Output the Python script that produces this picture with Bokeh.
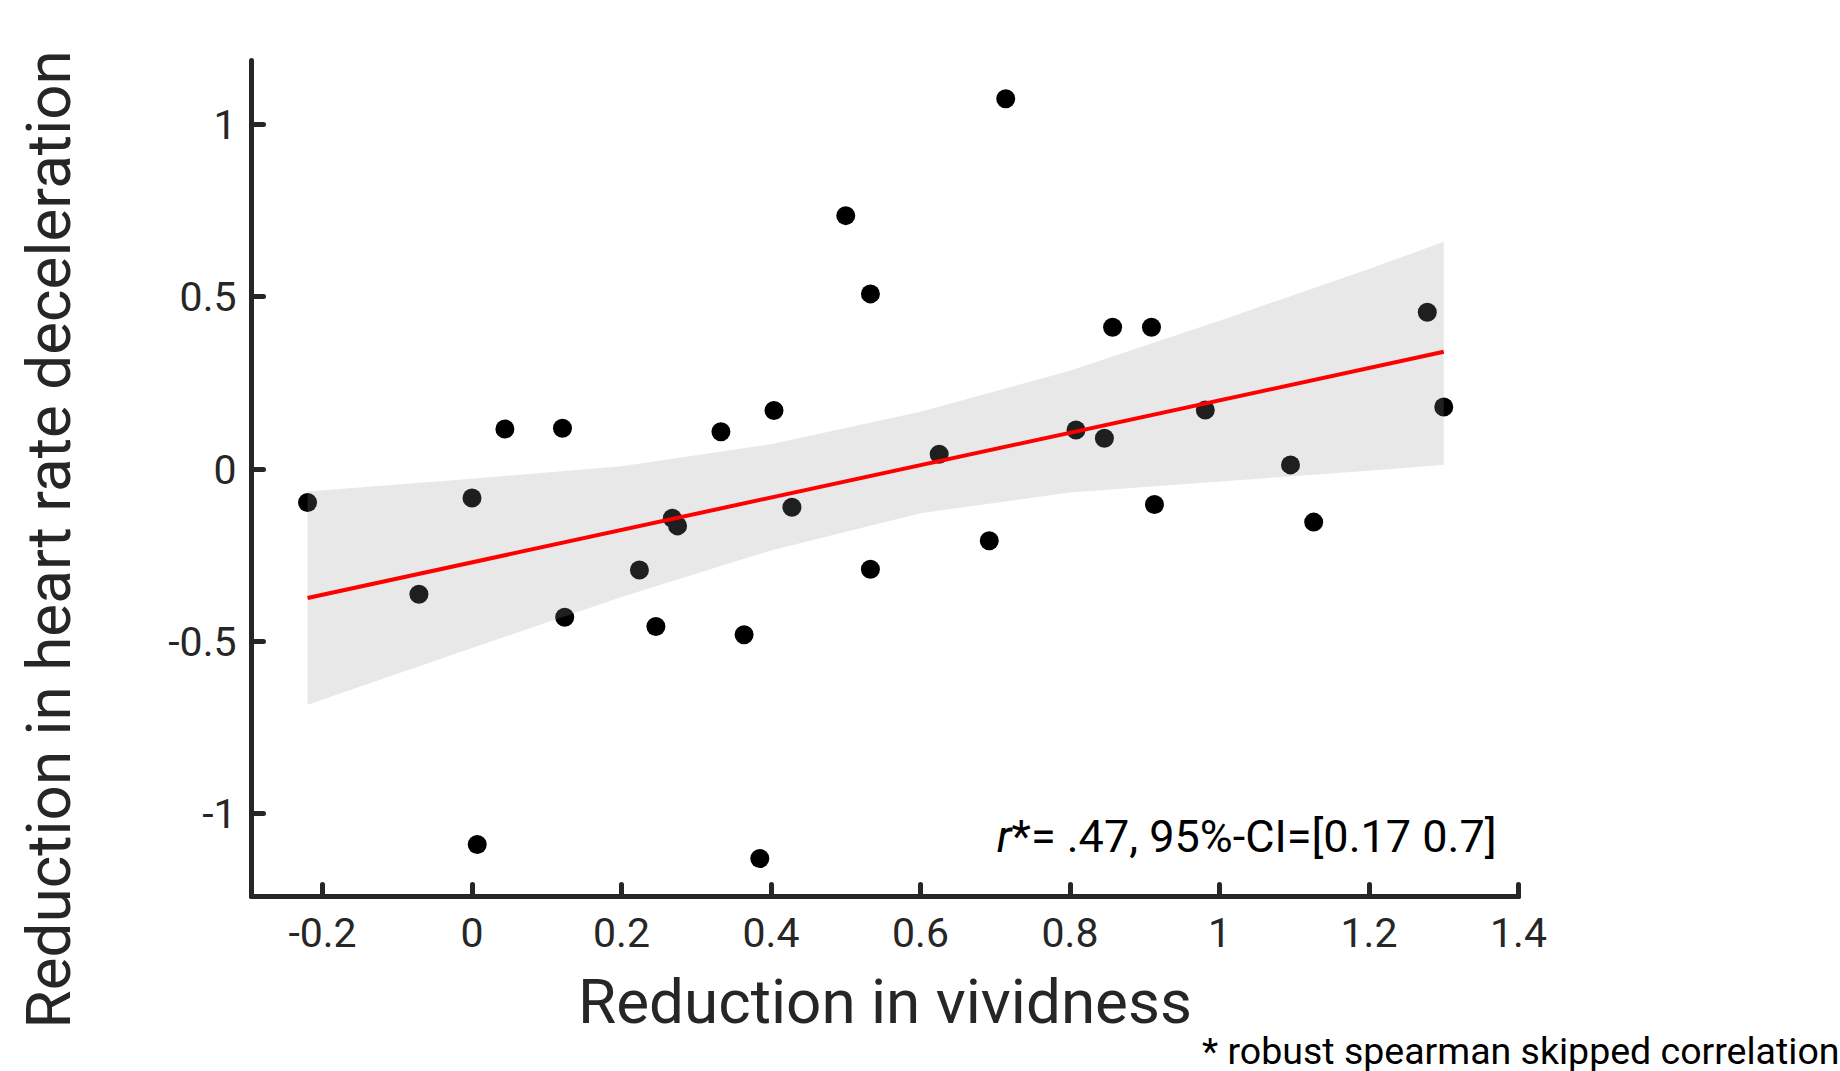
import math
from bokeh.plotting import figure
from bokeh.models import Label, FixedTicker, Range1d, Title
from bokeh.embed import file_html
from bokeh.resources import INLINE

# ---- data ----
vividness = [-0.220, -0.071, 0.000, 0.007, 0.044, 0.121, 0.124, 0.224, 0.246, 0.268,
             0.275, 0.333, 0.364, 0.385, 0.404, 0.428, 0.500, 0.533, 0.533, 0.625,
             0.692, 0.714, 0.808, 0.846, 0.857, 0.909, 0.913, 0.981, 1.095, 1.126,
             1.278, 1.300]
hr_decel = [-0.097, -0.363, -0.084, -1.089, 0.116, 0.118, -0.430, -0.293, -0.457, -0.143,
            -0.165, 0.108, -0.481, -1.130, 0.170, -0.111, 0.735, 0.508, -0.291, 0.043,
            -0.208, 1.074, 0.113, 0.089, 0.411, 0.411, -0.103, 0.171, 0.012, -0.154,
            0.455, 0.180]

fit_x = [-0.22, 1.30]
fit_y = [-0.374, 0.340]

band_x = [-0.22, 0.0, 0.2, 0.4, 0.6, 0.8, 1.0, 1.2, 1.3]
band_lower = [-0.684, -0.519, -0.371, -0.236, -0.128, -0.068, -0.036, -0.005, 0.0125]
band_upper = [-0.065, -0.028, 0.008, 0.072, 0.166, 0.285, 0.430, 0.580, 0.659]

x_ticks = [-0.2, 0, 0.2, 0.4, 0.6, 0.8, 1.0, 1.2, 1.4]
x_tick_labels = ["-0.2", "0", "0.2", "0.4", "0.6", "0.8", "1", "1.2", "1.4"]
y_ticks = [-1, -0.5, 0, 0.5, 1]
y_tick_labels = ["-1", "-0.5", "0", "0.5", "1"]

x_label = "Reduction in vividness"
y_label = "Reduction in heart rate deceleration"
stat_r = "r"
stat_text = "*= .47, 95%-CI=[0.17 0.7]"
footnote = "* robust spearman skipped correlation"

FONT = "Roboto"
AXC = "#262626"

p = figure(width=1840, height=1071,
           x_range=Range1d(-0.295, 1.4), y_range=Range1d(-1.24, 1.185),
           output_backend="svg", toolbar_location=None,
           min_border_left=251, min_border_right=322,
           min_border_top=60, min_border_bottom=175)
p.outline_line_color = None
p.xgrid.grid_line_color = None
p.ygrid.grid_line_color = None
p.background_fill_color = "white"
p.border_fill_color = "white"

p.scatter(vividness, hr_decel, size=19, fill_color="black", line_color=None)
p.varea(x=band_x, y1=band_lower, y2=band_upper, fill_color="#929292", fill_alpha=0.212)
p.line(fit_x, fit_y, line_color="#ff0000", line_width=4)

for ax in (p.xaxis[0], p.yaxis[0]):
    ax.axis_line_width = 5
    ax.axis_line_color = AXC
    ax.axis_line_cap = "round"
    ax.major_tick_line_width = 5
    ax.major_tick_line_color = AXC
    ax.major_tick_line_cap = "round"
    ax.major_tick_in = 12
    ax.major_tick_out = 0
    ax.minor_tick_line_color = None
    ax.major_label_text_font = FONT
    ax.major_label_text_font_size = "41px"
    ax.major_label_text_color = AXC

p.xaxis.major_label_standoff = 21
p.yaxis.major_label_standoff = 15

p.xaxis.ticker = FixedTicker(ticks=x_ticks)
p.xaxis.major_label_overrides = dict(zip(x_ticks, x_tick_labels))
p.yaxis.ticker = FixedTicker(ticks=y_ticks)
p.yaxis.major_label_overrides = dict(zip(y_ticks, y_tick_labels))

p.xaxis.axis_label = x_label
p.xaxis.axis_label_text_font = FONT
p.xaxis.axis_label_text_font_size = "62px"
p.xaxis.axis_label_text_font_style = "normal"
p.xaxis.axis_label_text_color = AXC
p.xaxis.axis_label_standoff = 15

# spacing between the y tick labels and the (shifted) y-axis title
p.yaxis.axis_label = " "
p.yaxis.axis_label_text_font_size = "1px"
p.yaxis.axis_label_standoff = 77

# y-axis title (shifted down like the reference)
p.add_layout(Title(text=y_label, align="left", offset=-132, standoff=0,
                   text_font=FONT, text_font_size="62px", text_font_style="normal",
                   text_color=AXC), "left")

# footnote at the bottom right
p.add_layout(Title(text=footnote, align="right", offset=-321, standoff=-28,
                   text_font=FONT, text_font_size="37.5px", text_font_style="normal",
                   text_color="black"), "below")

p.add_layout(Label(x=760, y=60, x_units="screen", y_units="screen", text=stat_r,
                   text_align="right", text_baseline="alphabetic", text_font_style="italic",
                   text_font=FONT, text_font_size="45px", text_color="black"))
p.add_layout(Label(x=760, y=60, x_units="screen", y_units="screen", text=stat_text,
                   text_align="left", text_baseline="alphabetic",
                   text_font=FONT, text_font_size="45px", text_color="black"))

open("out.html", "w").write(file_html(p, INLINE))
